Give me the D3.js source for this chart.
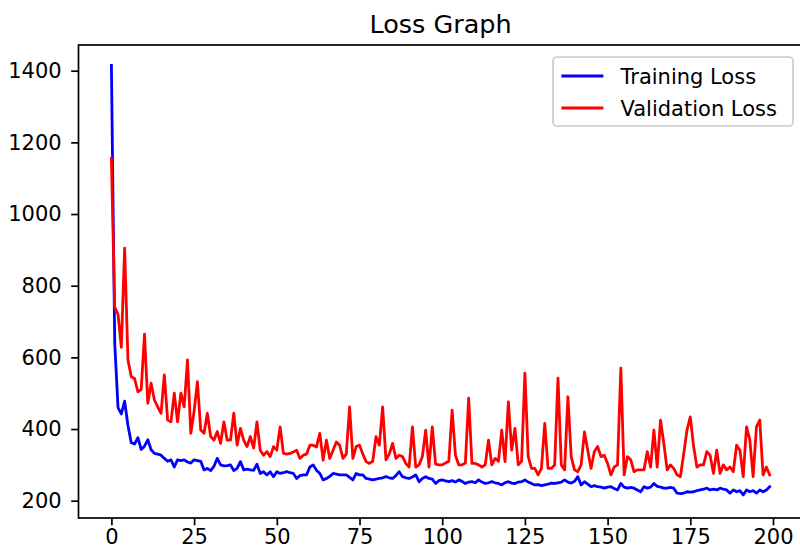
<!DOCTYPE html>
<html>
<head>
<meta charset="utf-8">
<script src="https://cdn.jsdelivr.net/npm/d3@7"></script>
<style>
  html, body { margin: 0; padding: 0; background: #fff; }
  svg { display: block; }
  text { font-family: "DejaVu Sans", sans-serif; }
</style>
</head>
<body>
<svg id="chart" width="800" height="552"></svg>
<script>
// ---- data ----
const chartTitle = "Loss Graph";
const seriesNames = ["Training Loss", "Validation Loss"];
const seriesColors = ["#0000ff", "#ff0000"];
const xTicks = [0, 25, 50, 75, 100, 125, 150, 175, 200];
const yTicks = [200, 400, 600, 800, 1000, 1200, 1400];

const trainingLoss = [
1415, 640, 460, 442, 478, 410, 362, 358, 376, 343,
352, 370, 342, 332, 330, 327, 318, 310, 314, 294,
314, 312, 314, 308, 305, 314, 312, 310, 286, 290,
284, 296, 318, 300, 297, 298, 300, 284, 290, 309,
286, 288, 286, 285, 302, 276, 281, 272, 281, 267,
281, 276, 278, 281, 278, 276, 262, 270, 272, 272,
294, 300, 285, 276, 258, 262, 268, 276, 274, 272,
272, 272, 265, 258, 276, 272, 272, 262, 260, 258,
260, 262, 264, 267, 264, 262, 270, 281, 267, 264,
262, 266, 272, 253, 262, 267, 262, 260, 248, 256,
258, 255, 253, 256, 252, 258, 254, 248, 252, 253,
250, 258, 252, 248, 250, 253, 250, 248, 244, 250,
253, 249, 248, 252, 253, 258, 252, 248, 244, 245,
242, 244, 246, 249, 248, 250, 252, 258, 252, 249,
254, 267, 244, 253, 246, 239, 242, 239, 238, 235,
238, 239, 234, 230, 248, 238, 235, 237, 235, 230,
225, 239, 235, 238, 248, 240, 238, 235, 235, 237,
235, 221, 220, 221, 225, 224, 225, 228, 230, 232,
235, 230, 232, 230, 235, 232, 230, 221, 230, 225,
228, 216, 230, 225, 228, 221, 230, 225, 230, 239
];

const validationLoss = [
1155, 740, 720, 628, 905, 593, 546, 541, 504, 510,
665, 472, 528, 481, 462, 444, 551, 425, 420, 500,
420, 500, 462, 593, 388, 450, 532, 397, 388, 444,
379, 369, 393, 360, 420, 369, 369, 444, 355, 402,
369, 351, 379, 347, 420, 340, 327, 337, 323, 351,
341, 406, 332, 330, 332, 336, 341, 318, 327, 330,
355, 355, 350, 388, 313, 369, 318, 341, 364, 355,
318, 330, 462, 318, 351, 355, 330, 309, 304, 310,
379, 355, 462, 314, 330, 360, 318, 327, 323, 304,
294, 406, 294, 300, 323, 397, 294, 406, 302, 300,
300, 305, 310, 453, 327, 300, 300, 305, 486, 304,
304, 300, 294, 300, 369, 300, 318, 310, 397, 309,
476, 341, 402, 300, 310, 556, 323, 290, 290, 272,
290, 416, 290, 290, 300, 542, 300, 286, 490, 323,
286, 281, 300, 392, 341, 290, 337, 351, 323, 327,
304, 272, 294, 300, 570, 272, 323, 314, 281, 286,
286, 286, 337, 294, 397, 294, 425, 360, 286, 300,
290, 272, 267, 330, 397, 434, 351, 294, 300, 300,
337, 327, 276, 341, 276, 300, 286, 294, 281, 355,
341, 267, 406, 369, 267, 406, 425, 272, 294, 272
];

const allSeries = [trainingLoss, validationLoss];

// ---- layout ----
const plot = { left: 78.5, right: 802.6, top: 45, bottom: 518 };
const svg = d3.select("#chart");

const n = trainingLoss.length;
const xPad = (n - 1) * 0.05;
const x = d3.scaleLinear().domain([-xPad, (n - 1) + xPad]).range([plot.left, plot.right]);
const y = d3.scaleLinear().domain([151.7, 1471.7]).range([plot.bottom, plot.top]);

// title
svg.append("text")
  .attr("x", (plot.left + plot.right) / 2)
  .attr("y", 32.5)
  .attr("text-anchor", "middle")
  .attr("font-size", 25.5)
  .attr("fill", "#000")
  .text(chartTitle);

// lines
const lineGen = d3.line().x((d, i) => x(i)).y(d => y(d));
allSeries.forEach((s, k) => {
  svg.append("path")
    .datum(s)
    .attr("fill", "none")
    .attr("stroke", seriesColors[k])
    .attr("stroke-width", 2.8)
    .attr("stroke-linejoin", "round")
    .attr("stroke-linecap", "square")
    .attr("d", lineGen);
});

// axes
const xAxis = svg.append("g")
  .attr("transform", `translate(0,${plot.bottom})`)
  .call(d3.axisBottom(x).tickValues(xTicks).tickFormat(d3.format("d")).tickSizeOuter(0).tickSize(7.3).tickPadding(4));
const yAxis = svg.append("g")
  .attr("transform", `translate(${plot.left},0)`)
  .call(d3.axisLeft(y).tickValues(yTicks).tickFormat(d3.format("d")).tickSizeOuter(0).tickSize(7.3).tickPadding(9.5));

[xAxis, yAxis].forEach(g => {
  g.select(".domain").remove();
  g.selectAll(".tick line").attr("stroke", "#000").attr("stroke-width", 1.7);
  g.selectAll(".tick text").attr("font-size", 21).attr("fill", "#000")
    .attr("font-family", "DejaVu Sans, sans-serif");
});

// spines (frame)
svg.append("rect")
  .attr("x", plot.left).attr("y", plot.top)
  .attr("width", plot.right - plot.left).attr("height", plot.bottom - plot.top)
  .attr("fill", "none").attr("stroke", "#000").attr("stroke-width", 1.7);

// legend
const lg = svg.append("g").attr("transform", "translate(553,57)");
lg.append("rect")
  .attr("width", 240).attr("height", 69).attr("rx", 4)
  .attr("fill", "#fff").attr("fill-opacity", 0.8)
  .attr("stroke", "#cccccc").attr("stroke-width", 1.7);
seriesNames.forEach((name, k) => {
  const cy = 19 + k * 32;
  lg.append("line")
    .attr("x1", 8.4).attr("x2", 50.4).attr("y1", cy).attr("y2", cy)
    .attr("stroke", seriesColors[k]).attr("stroke-width", 3);
  lg.append("text")
    .attr("x", 67.5).attr("y", cy).attr("dy", "0.36em")
    .attr("font-size", 21).attr("fill", "#000")
    .text(name);
});
</script>
</body>
</html>
